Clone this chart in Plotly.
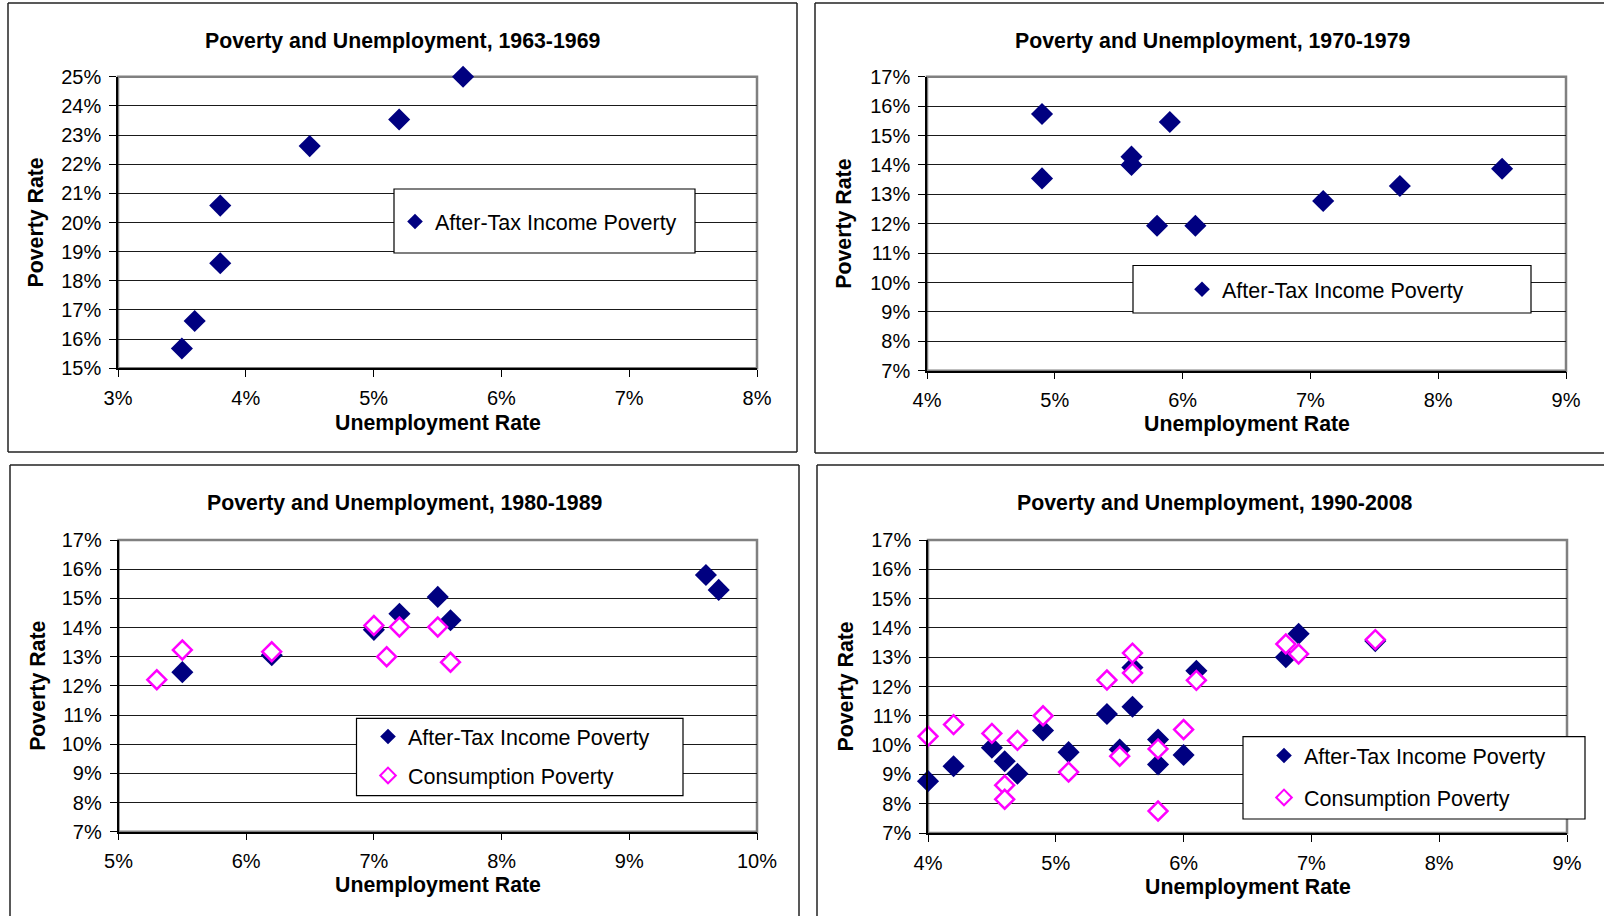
import plotly.graph_objects as go

W, H = 1604, 916

# ---------------- data ----------------
titles = ["Poverty and Unemployment, 1963-1969",
          "Poverty and Unemployment, 1970-1979",
          "Poverty and Unemployment, 1980-1989",
          "Poverty and Unemployment, 1990-2008"]
x_title = "Unemployment Rate"
y_title = "Poverty Rate"
series_names = ["After-Tax Income Poverty", "Consumption Poverty"]

# Panel 1: 1963-1969
unemp_6369 = [5.7, 5.2, 4.5, 3.8, 3.8, 3.6, 3.5]
atpov_6369 = [25.0, 23.53, 22.62, 20.58, 18.6, 16.62, 15.68]

# Panel 2: 1970-1979
unemp_7079 = [4.9, 5.9, 5.6, 4.9, 5.6, 8.5, 7.7, 7.1, 6.1, 5.8]
atpov_7079 = [15.73, 15.46, 14.28, 13.54, 14.0, 13.87, 13.28, 12.77, 11.93, 11.93]

# Panel 3: 1980-1989
unemp_8089_at = [5.5, 6.2, 7.0, 7.2, 7.5, 7.6, 9.6, 9.7]
atpov_8089 = [12.47, 13.05, 13.92, 14.47, 15.05, 14.25, 15.8, 15.29]
unemp_8089_cons = [5.3, 5.5, 6.2, 7.0, 7.2, 7.1, 7.5, 7.6]
conspov_8089 = [12.21, 13.23, 13.17, 14.07, 14.02, 13.0, 14.02, 12.81]

# Panel 4: 1990-2008
unemp_9008_at = [4.0, 4.2, 4.5, 4.6, 4.7, 4.9, 5.1, 5.4, 5.5, 5.6, 5.6, 5.8, 5.8,
                 6.0, 6.1, 6.8, 6.9, 7.5]
atpov_9008 = [8.77, 9.28, 9.91, 9.45, 9.02, 10.5, 9.76, 11.06, 9.85, 12.65, 11.31,
              10.19, 9.34, 9.66, 12.54, 13.0, 13.8, 13.55]
unemp_9008_cons = [4.0, 4.2, 4.5, 4.6, 4.6, 4.7, 4.9, 5.1, 5.4, 5.5, 5.6, 5.6, 5.8,
                   5.8, 6.0, 6.1, 6.8, 6.9, 7.5]
conspov_9008 = [10.3, 10.7, 10.4, 8.63, 8.15, 10.16, 11.0, 9.08, 12.22, 9.62, 13.14,
                12.46, 9.87, 7.75, 10.53, 12.21, 13.45, 13.11, 13.6]

x_ranges = [(3, 8), (4, 9), (5, 10), (4, 9)]
y_ranges = [(15, 25), (7, 17), (7, 17), (7, 17)]

# ---------------- layout geometry (pixels) ----------------
FONT = "Liberation Sans, Arial, sans-serif"
NAVY = "#000080"
MAGENTA = "#FF00FF"

# box = (left, top, right, bottom); None means the border runs off the page
panels = [
    dict(box=(8, 3, 797, 452), title_cx=402.5, plot=(118, 76.7, 757, 368.3), title_y=41,
         xt_y=422.5, yt_x=36, legend_box=(394, 189, 695, 253), legend_text_x=435,
         legend_cy=221.5, gap=0),
    dict(box=(815, 3, None, 453), title_cx=1212, plot=(927, 76.7, 1566, 370.7), title_y=41,
         xt_y=424.5, yt_x=844, legend_box=(1133, 265.5, 1531, 313), legend_text_x=1222,
         legend_cy=289.3, gap=0),
    dict(box=(10, 465, 799, None), title_cx=404.5, plot=(118.5, 540, 757, 831.7),
         title_y=503, xt_y=885, yt_x=38, legend_box=(356.5, 718.3, 683, 795.7),
         legend_text_x=408, legend_cy=756, gap=8),
    dict(box=(817, 465, None, None), title_cx=1214, plot=(928, 540, 1567, 833),
         title_y=503, xt_y=887, yt_x=845, legend_box=(1243, 736.7, 1585, 819),
         legend_text_x=1304, legend_cy=776.5, gap=11),
]


def pxx(x):
    return x / W


def pyy(y):
    return 1 - y / H


fig = go.Figure()

data_sets = [
    [(unemp_6369, atpov_6369, 0)],
    [(unemp_7079, atpov_7079, 0)],
    [(unemp_8089_at, atpov_8089, 0), (unemp_8089_cons, conspov_8089, 1)],
    [(unemp_9008_at, atpov_9008, 0), (unemp_9008_cons, conspov_9008, 1)],
]

shapes = []
annotations = []
layout_axes = {}


def border_line(xa, ya, xb, yb):
    return dict(type="line", xref="paper", yref="paper", x0=pxx(xa), y0=pyy(ya),
                x1=pxx(xb), y1=pyy(yb), line=dict(color="#222222", width=1.5),
                layer="below")


for i, (pan, sets) in enumerate(zip(panels, data_sets)):
    n = "" if i == 0 else str(i + 1)
    xa, ya = "x" + n, "y" + n
    leg = "legend" + n
    for (xs, ys, kind) in sets:
        if kind == 0:
            marker = dict(symbol="diamond", size=17, color=NAVY, line=dict(width=0))
        else:
            marker = dict(symbol="diamond", size=14.5, color="white",
                          line=dict(color=MAGENTA, width=2.5))
        fig.add_trace(go.Scatter(x=xs, y=ys, mode="markers", name=series_names[kind],
                                 marker=marker, xaxis=xa, yaxis=ya, legend=leg,
                                 legendgroup=f"g{i}_{kind}", showlegend=True,
                                 cliponaxis=False))
    x0, y0, x1, y1 = pan["plot"]
    layout_axes["xaxis" + n] = dict(
        domain=[pxx(x0), pxx(x1)], range=list(x_ranges[i]), dtick=1, ticksuffix="%",
        showgrid=False, zeroline=False, showline=True, linecolor="black", linewidth=1.5,
        ticks="outside", ticklen=7, tickcolor="black", tickwidth=1, ticklabelstandoff=4,
        automargin=False,
        tickfont=dict(family=FONT, size=20, color="black"), anchor=ya, fixedrange=True)
    layout_axes["yaxis" + n] = dict(
        domain=[pyy(y1), pyy(y0)], range=list(y_ranges[i]), dtick=1, ticksuffix="%",
        showgrid=True, gridcolor="#1a1a1a", gridwidth=1, zeroline=False,
        showline=True, linecolor="black", linewidth=1.5, automargin=False,
        ticks="outside", ticklen=7, tickcolor="black", tickwidth=1, ticklabelstandoff=4,
        tickfont=dict(family=FONT, size=20, color="black"), anchor=xa, fixedrange=True)
    # gray plot-area frame
    shapes.append(dict(type="rect", xref="paper", yref="paper",
                       x0=pxx(x0), y0=pyy(y1), x1=pxx(x1), y1=pyy(y0),
                       line=dict(color="#808080", width=2.5), layer="below"))
    # chart border (only the sides that are inside the page)
    bx0, by0, bx1, by1 = pan["box"]
    rx = bx1 if bx1 is not None else W
    by = by1 if by1 is not None else H
    shapes.append(border_line(bx0, by0, rx, by0))
    shapes.append(border_line(bx0, by0, bx0, by))
    if bx1 is not None:
        shapes.append(border_line(bx1, by0, bx1, by))
    if by1 is not None:
        shapes.append(border_line(bx0, by1, rx, by1))
    # legend box
    lx0, ly0, lx1, ly1 = pan["legend_box"]
    shapes.append(dict(type="rect", xref="paper", yref="paper", x0=pxx(lx0), x1=pxx(lx1),
                       y0=pyy(ly1), y1=pyy(ly0), line=dict(color="black", width=1.2),
                       fillcolor="white", layer="above"))
    layout_axes[leg] = dict(
        x=pxx(pan["legend_text_x"] - 40), y=pyy(pan["legend_cy"]), xanchor="left",
        yanchor="middle", bgcolor="rgba(0,0,0,0)", borderwidth=0,
        font=dict(family=FONT, size=21.5, color="black"), itemsizing="constant",
        tracegroupgap=pan["gap"], traceorder="grouped")
    # titles
    annotations.append(dict(text="<b>" + titles[i] + "</b>", xref="paper", yref="paper",
                            x=pxx(pan["title_cx"]), y=pyy(pan["title_y"]),
                            xanchor="center", yanchor="middle", showarrow=False,
                            font=dict(family=FONT, size=21.3, color="black")))
    annotations.append(dict(text="<b>" + x_title + "</b>", xref="paper", yref="paper",
                            x=pxx((x0 + x1) / 2), y=pyy(pan["xt_y"]),
                            xanchor="center", yanchor="middle", showarrow=False,
                            font=dict(family=FONT, size=21.3, color="black")))
    annotations.append(dict(text="<b>" + y_title + "</b>", xref="paper", yref="paper",
                            x=pxx(pan["yt_x"]), y=pyy((y0 + y1) / 2), textangle=-90,
                            xanchor="center", yanchor="middle", showarrow=False,
                            font=dict(family=FONT, size=21.3, color="black")))

fig.update_layout(
    width=W, height=H, autosize=False,
    margin=dict(l=0, r=0, t=0, b=0, pad=0, autoexpand=False),
    paper_bgcolor="white", plot_bgcolor="rgba(0,0,0,0)",
    showlegend=True,
    shapes=shapes, annotations=annotations,
    **layout_axes,
)

fig.write_html("out.html", config={"displayModeBar": False},
               post_script="document.body.style.margin='0';document.body.style.overflow='hidden';")
